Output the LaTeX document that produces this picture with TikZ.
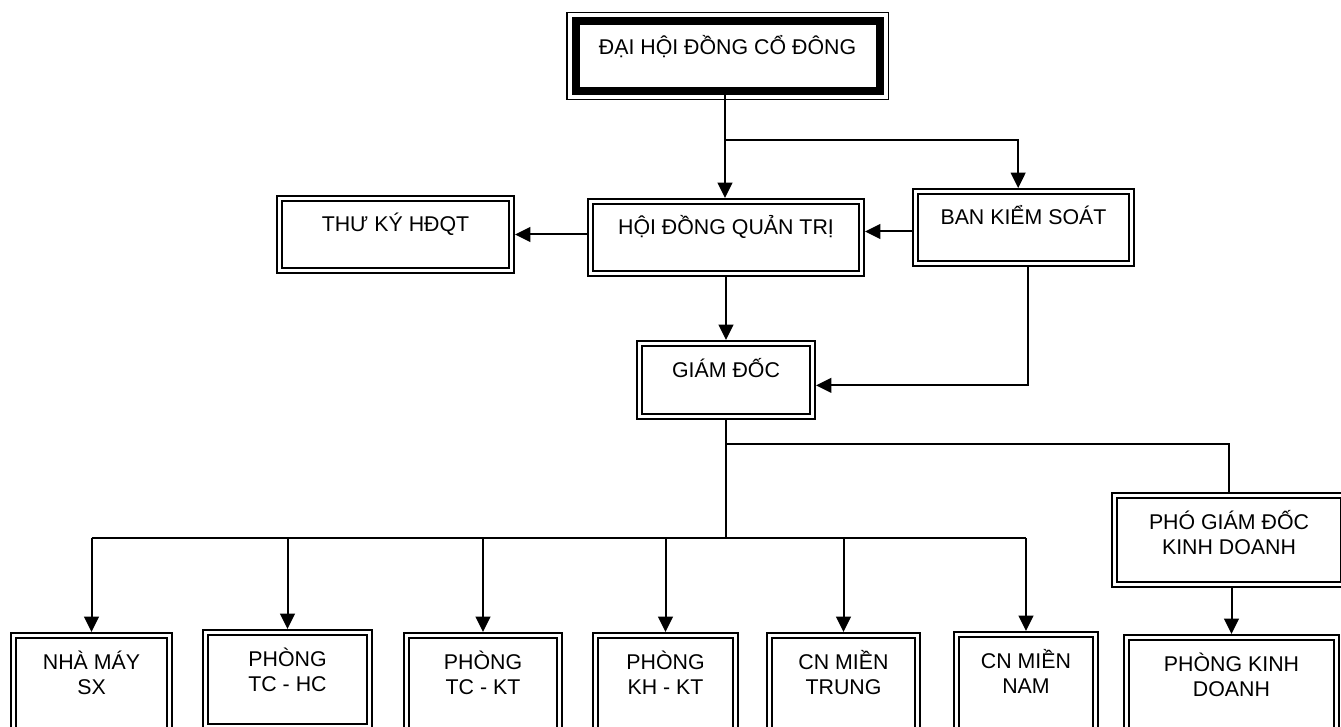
\documentclass[tikz,border=0pt]{standalone}
\usepackage{fontspec}
\setmainfont{Liberation Sans}
\usetikzlibrary{arrows.meta,positioning,calc}
\tikzset{>={Triangle[length=11.5pt,width=11pt]}}
\tikzset{
  box/.style={draw, double, line width=1.5pt, double distance=2.2pt, outer sep=2.6pt,
    align=center, anchor=north, text height=12pt, inner ysep=13.15pt, text depth=15.75pt,
    font=\fontsize{16}{18.75}\selectfont},
  twoline/.style={box, text height=30.75pt, text depth=9.75pt},
  unit/.style={twoline, text depth=23.25pt},
  topbox/.style={draw, line width=6pt, outer sep=3pt, align=center, anchor=north,
    minimum width=228pt, text height=12pt, inner ysep=13.5pt, text depth=13.5pt,
    font=\fontsize{16}{18.75}\selectfont}
}

\begin{document}
\begin{tikzpicture}[x=0.75pt,y=-0.75pt]

\useasboundingbox (0,0) rectangle (1341,727);
\clip (0,0) rectangle (1341,727);

\node [topbox] (dhdcd) at (727.5,17) {ĐẠI HỘI ĐỒNG CỔ ĐÔNG};
\node [box,minimum width=203.3pt] (hdqt) at (726,198) {HỘI ĐỒNG QUẢN TRỊ};
\node [box,minimum width=174pt] (tk) at (395.5,195) {THƯ KÝ HĐQT};
\node [box,minimum width=162pt] (bks) at (1023.5,188) {BAN KIỂM SOÁT};
\node [box,minimum width=129.8pt,text depth=16.5pt] (gd) at (726,340) {GIÁM ĐỐC};
\node [twoline,minimum width=172pt] (pgd) at (1229,492) {PHÓ GIÁM ĐỐC\\KINH DOANH};

\node [unit,minimum width=117pt] (nm) at (91.5,632) {NHÀ MÁY\\SX};
\node [unit,minimum width=123pt,text depth=13.5pt] (tchc) at (287.5,629) {PHÒNG\\TC - HC};
\node [unit,minimum width=115pt] (tckt) at (483,632) {PHÒNG\\TC - KT};
\node [unit,minimum width=105pt] (khkt) at (665.5,632) {PHÒNG\\KH - KT};
\node [unit,minimum width=111pt] (cnmt) at (843.5,632) {CN MIỀN\\TRUNG};
\node [unit,minimum width=104pt] (cnmn) at (1026,631) {CN MIỀN\\NAM};
\node [unit,minimum width=157.6pt] (pkd) at (1231.5,634) {PHÒNG KINH\\DOANH};

% thin outer frame of the top box
\draw [line width=0.8pt] ([shift={(-3.4pt,3.4pt)}]dhdcd.north west) rectangle ([shift={(3.4pt,-3.4pt)}]dhdcd.south east);

\coordinate (split) at (725,140);
\coordinate (fork) at (726,444);
\coordinate (bus) at (726,538);

\begin{scope}[line width=1.5pt]
\draw[->] (dhdcd.south -| split) -- (hdqt.north -| split);
\draw[->] (split) -| ([xshift=-4pt]bks.north);
\draw[->] ([yshift=-3pt]bks.west) -- ([yshift=-3pt]bks.west -| hdqt.east);
\draw[->] (hdqt.west |- tk) -- (tk.east);
\draw[->] (hdqt.south -| gd) -- (gd.north);
\draw[->] ([xshift=3.5pt]bks.south) |- ([yshift=-4pt]gd.east);
\draw (gd.south) -- (bus);
\draw (fork) -| (pgd.north);
\draw (nm.north |- bus) -- (cnmn.north |- bus);
\foreach \n in {nm,tchc,tckt,khkt,cnmt,cnmn}
  \draw[->] (\n.north |- bus) -- (\n.north);
\draw[->] (pgd.south -| pkd) -- (pkd.north);
\end{scope}

\end{tikzpicture}
\end{document}
